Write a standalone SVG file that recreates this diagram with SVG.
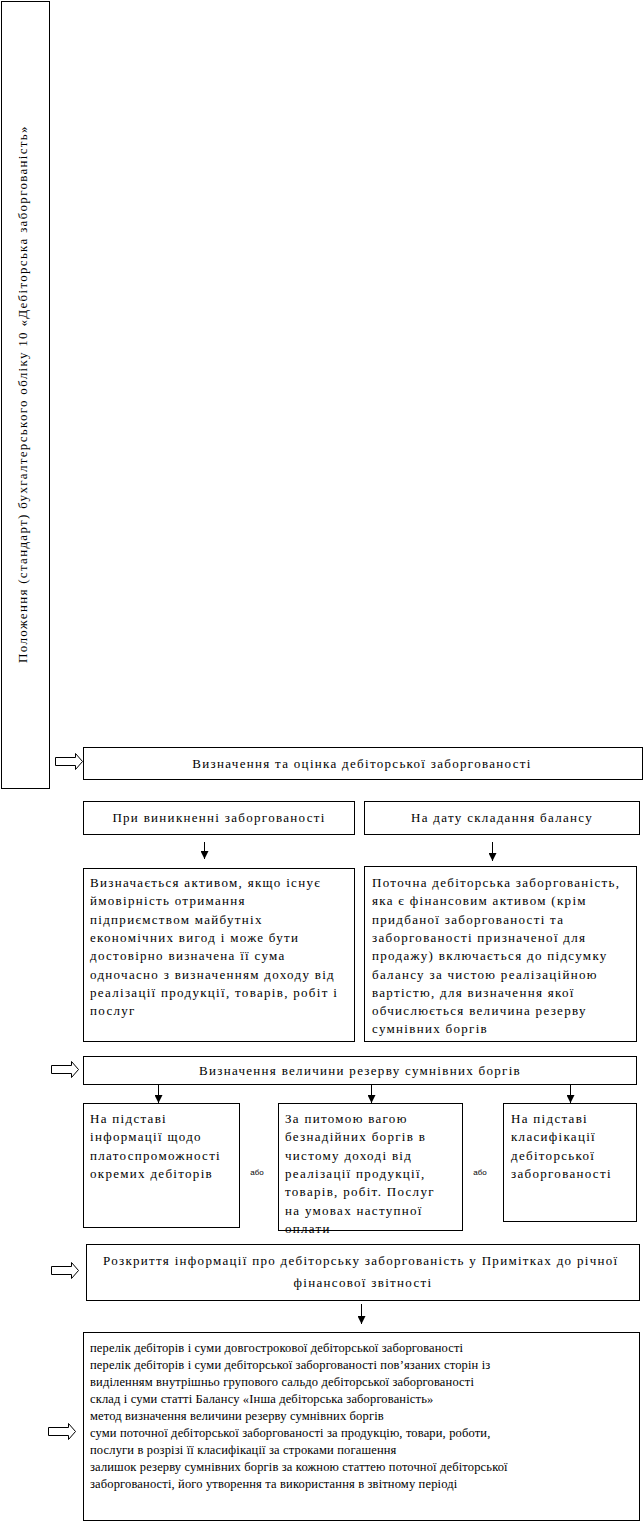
<svg xmlns="http://www.w3.org/2000/svg" width="644" height="1526" viewBox="0 0 644 1526">
<defs>
<style>
.box{fill:#fff;stroke:#000;stroke-width:1}
.t{font-family:"Liberation Serif","Times New Roman",serif;font-size:13px;letter-spacing:1.3px;fill:#000}
.c{text-anchor:middle}
.f{font-family:"Liberation Serif","Times New Roman",serif;font-size:12.5px;letter-spacing:0.15px;fill:#000}
.s{font-family:"Liberation Sans",Arial,sans-serif;font-size:8px;fill:#000;text-anchor:middle}
.ln{stroke:#000;stroke-width:1;fill:none}
.ba{fill:#fff;stroke:#000;stroke-width:1}
</style>
<marker id="ah" viewBox="0 0 8 8" refX="8" refY="4" markerWidth="8" markerHeight="8" markerUnits="userSpaceOnUse" orient="auto">
<path d="M0,0 L8,4 L0,8 Z" fill="#000"/>
</marker>
</defs>
<rect width="644" height="1526" fill="#fff"/>

<g id="title">
<rect class="box" x="1.5" y="1.5" width="48" height="787"/>
<text class="t c" transform="translate(27,394) rotate(-90)">Положення (стандарт) бухгалтерського обліку 10 «Дебіторська заборгованість»</text>
</g>

<g id="def">
<rect class="box" x="83.5" y="747.5" width="559" height="32"/>
<text class="t c" x="362" y="768">Визначення та оцінка дебіторської заборгованості</text>
</g>

<g id="occur">
<rect class="box" x="83.5" y="801.5" width="271" height="33"/>
<text class="t c" x="219" y="822">При виникненні заборгованості</text>
</g>

<g id="balance">
<rect class="box" x="364.5" y="801.5" width="275" height="33"/>
<text class="t c" x="502" y="822">На дату складання балансу</text>
</g>

<g id="occur-text">
<rect class="box" x="83.5" y="868.5" width="271" height="173"/>
<text class="t">
<tspan x="90" y="887">Визначається активом, якщо існує</tspan>
<tspan x="90" y="905">ймовірність отримання</tspan>
<tspan x="90" y="924">підприємством майбутніх</tspan>
<tspan x="90" y="942">економічних вигод і може бути</tspan>
<tspan x="90" y="960">достовірно визначена її сума</tspan>
<tspan x="90" y="979">одночасно з визначенням доходу від</tspan>
<tspan x="90" y="997">реалізації продукції, товарів, робіт і</tspan>
<tspan x="90" y="1015">послуг</tspan>
</text>
</g>

<g id="balance-text">
<rect class="box" x="364.5" y="866.5" width="272" height="175"/>
<text class="t">
<tspan x="372" y="887">Поточна дебіторська заборгованість,</tspan>
<tspan x="372" y="905">яка є фінансовим активом (крім</tspan>
<tspan x="372" y="924">придбаної заборгованості та</tspan>
<tspan x="372" y="942">заборгованості призначеної для</tspan>
<tspan x="372" y="960">продажу) включається до підсумку</tspan>
<tspan x="372" y="979">балансу за чистою реалізаційною</tspan>
<tspan x="372" y="997">вартістю, для визначення якої</tspan>
<tspan x="372" y="1015">обчислюється величина резерву</tspan>
<tspan x="372" y="1033">сумнівних боргів</tspan>
</text>
</g>

<g id="reserve">
<rect class="box" x="83.5" y="1056.5" width="553" height="28"/>
<text class="t c" x="360" y="1075">Визначення величини резерву сумнівних боргів</text>
</g>

<g id="method-a">
<rect class="box" x="83.5" y="1103.5" width="156" height="124"/>
<text class="t">
<tspan x="90" y="1123">На підставі</tspan>
<tspan x="90" y="1141">інформації щодо</tspan>
<tspan x="90" y="1160">платоспроможності</tspan>
<tspan x="90" y="1178">окремих дебіторів</tspan>
</text>
</g>

<g id="method-b">
<rect class="box" x="278.5" y="1103.5" width="184" height="127"/>
<text class="t">
<tspan x="285" y="1123">За питомою вагою</tspan>
<tspan x="285" y="1141">безнадійних боргів в</tspan>
<tspan x="285" y="1160">чистому доході від</tspan>
<tspan x="285" y="1178">реалізації продукції,</tspan>
<tspan x="285" y="1196">товарів, робіт. Послуг</tspan>
<tspan x="285" y="1215">на умовах наступної</tspan>
<tspan x="285" y="1233">оплати</tspan>
</text>
</g>

<g id="method-c">
<rect class="box" x="503.5" y="1103.5" width="133" height="118"/>
<text class="t">
<tspan x="511" y="1123">На підставі</tspan>
<tspan x="511" y="1141">класифікації</tspan>
<tspan x="511" y="1160">дебіторської</tspan>
<tspan x="511" y="1178">заборгованості</tspan>
</text>
</g>

<g id="or-labels">
<text class="s" x="257" y="1175">або</text>
<text class="s" x="480" y="1175">або</text>
</g>

<g id="disclosure">
<rect class="box" x="86.5" y="1244.5" width="553" height="56"/>
<text class="t c">
<tspan x="363" y="1265">Розкриття інформації про дебіторську заборгованість у Примітках до річної</tspan>
<tspan x="363" y="1287">фінансової звітності</tspan>
</text>
</g>

<g id="disclosure-list">
<rect class="box" x="83.5" y="1332.5" width="556" height="188"/>
<text class="f">
<tspan x="90" y="1352">перелік дебіторів і суми довгострокової дебіторської заборгованості</tspan>
<tspan x="90" y="1369">перелік дебіторів і суми дебіторської заборгованості пов’язаних сторін із</tspan>
<tspan x="90" y="1386">виділенням внутрішньо групового сальдо дебіторської заборгованості</tspan>
<tspan x="90" y="1403">склад і суми статті Балансу «Інша дебіторська заборгованість»</tspan>
<tspan x="90" y="1420">метод визначення величини резерву сумнівних боргів</tspan>
<tspan x="90" y="1437">суми поточної дебіторської заборгованості за продукцію, товари, роботи,</tspan>
<tspan x="90" y="1454">послуги в розрізі її класифікації за строками погашення</tspan>
<tspan x="90" y="1471">залишок резерву сумнівних боргів за кожною статтею поточної дебіторської</tspan>
<tspan x="90" y="1488">заборгованості, його утворення та використання в звітному періоді</tspan>
</text>
</g>

<g id="connectors">
<path class="ba" d="M55.5,757.5 H75.5 V753.5 L82.5,761.5 L75.5,769.5 V765.5 H55.5 Z"/>
<path class="ba" d="M51.5,1065.5 H71.5 V1061.5 L78.5,1069.5 L71.5,1077.5 V1073.5 H51.5 Z"/>
<path class="ba" d="M51.5,1266.5 H71.5 V1262.5 L78.5,1270.5 L71.5,1278.5 V1274.5 H51.5 Z"/>
<path class="ba" d="M48.5,1427.5 H68.5 V1423.5 L75.5,1431.5 L68.5,1439.5 V1435.5 H48.5 Z"/>
<line class="ln" x1="204.5" y1="842" x2="204.5" y2="859" marker-end="url(#ah)"/>
<line class="ln" x1="492.5" y1="842" x2="492.5" y2="861" marker-end="url(#ah)"/>
<line class="ln" x1="158.5" y1="1085" x2="158.5" y2="1103" marker-end="url(#ah)"/>
<line class="ln" x1="371.5" y1="1085" x2="371.5" y2="1103" marker-end="url(#ah)"/>
<line class="ln" x1="570.5" y1="1085" x2="570.5" y2="1103" marker-end="url(#ah)"/>
<line class="ln" x1="361.5" y1="1304" x2="361.5" y2="1324" marker-end="url(#ah)"/>
</g>
</svg>
